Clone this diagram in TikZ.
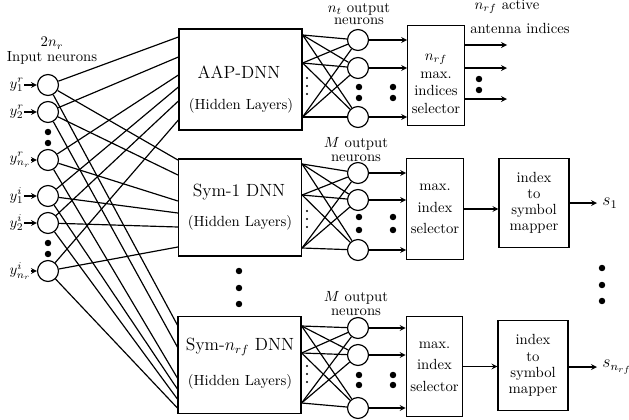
\documentclass[tikz,border=0pt]{standalone}
\usetikzlibrary{arrows,calc}
\begin{document}
\begin{tikzpicture}[x=0.0239cm,y=-0.0239cm,thick,
    neuron/.style={draw,circle,minimum size=0.5cm,inner sep=0pt},
    dnn/.style={draw,minimum width=2.94cm,minimum height=2.32cm,inner sep=0pt},
    selbox/.style={draw,minimum width=1.35cm,minimum height=2.4cm,inner sep=0pt,align=center},
    mapbox/.style={draw,minimum width=1.67cm,minimum height=2.14cm,inner sep=0pt,align=center},
    lbl/.style={align=center,inner sep=0pt}]
  \useasboundingbox (0,0) rectangle (629,419);

  \node[lbl] (intitle) at (52,51) {$2n_r$\\[-2pt]Input neurons};
  \foreach \i/\y/\lab in {1/85/y^r_1,2/112/y^r_2,3/160/y^r_{n_r},4/196/y^i_1,5/223/y^i_2,6/271/y^i_{n_r}}
  {
    \node[neuron] (in\i) at (48,\y) {};
    \node[anchor=west,inner sep=0pt] (y\i) at (9,\y) {$\lab$};
    \draw[-stealth] (y\i) -- (in\i);
  }
  \foreach \y in {132,143,243,254} \fill (48,\y) circle (2.2pt);

  \node[dnn,minimum height=2.41cm] (aap) at (240.5,79.5) {};
  \node[dnn] (sym1) at (240,207.5) {};
  \node[dnn] (symn) at (239.5,365) {};
  \node[font=\large] (aapname) at (239,72) {AAP-DNN};
  \node (aaphid) at (241,106) {(Hidden Layers)};
  \node[font=\large] (sym1name) at (239,192) {Sym-1 DNN};
  \node (sym1hid) at (240,223) {(Hidden Layers)};
  \node[font=\large] (symnname) at (240,347) {Sym-$n_{rf}$ DNN};
  \node (symnhid) at (240,382) {(Hidden Layers)};
  \foreach \y in {271,288,304} \fill (239,\y) circle (2.2pt);

  \foreach \i/\a/\b/\c in {1/37/160/325,2/57/175/347,3/75/201/378,4/87/213/389,5/101/227/399,6/120/247/408}
  {
    \coordinate (aapin\i) at (aap.west |- 0,\a);
    \coordinate (sym1in\i) at (sym1.west |- 0,\b);
    \coordinate (symnin\i) at (symn.west |- 0,\c);
    \path (in\i) edge (aapin\i) edge (sym1in\i) edge (symnin\i);
  }

  \node[selbox] (sela) at (436,75.5) {};
  \node[lbl] (selatxt) at (436,84) {$n_{rf}$\\max.\\indices\\selector};
  \node[selbox] (selb) at (435,209) {max.\\[2.6pt]index\\[2.6pt]selector};
  \node[selbox] (selc) at (434.5,366.5) {max.\\[2.6pt]index\\[2.6pt]selector};

  \node[lbl] (nttitle) at (359,14) {$n_t$ output\\[-4pt]neurons};
  \node[lbl] (mtitleb) at (356,149.5) {$M$ output\\[-3pt]neurons};
  \node[lbl] (mtitlec) at (356,303.5) {$M$ output\\[-3pt]neurons};

  \foreach \rw/\bx/\pa/\pb/\pc/\qa/\qb/\qc/\dm/\da/\db in
    {a/aap/35/63/117/40/68/117/86/87/98, b/sym1/164/195/248/173/200/250/219/217/230, c/symn/326/353/403/328/355/408/374/375/385}
  {
    \coordinate (src\rw1) at (\bx.east |- 0,\pa);
    \coordinate (src\rw2) at (\bx.east |- 0,\pb);
    \coordinate (src\rw3) at (\bx.east |- 0,\pc);
    \node[neuron] (out\rw1) at (358,\qa) {};
    \node[neuron] (out\rw2) at (358,\qb) {};
    \node[neuron] (out\rw3) at (358,\qc) {};
    \foreach \src in {1,2,3} \foreach \dst in {1,2,3} \draw (src\rw\src) -- (out\rw\dst);
    \foreach \dst in {1,2,3} \draw[-stealth] (out\rw\dst) -- (sel\rw.west |- out\rw\dst);
    \foreach \y in {-8,0,8} \fill (307,\dm+\y) circle (0.8pt);
    \fill (359,\da) circle (2.2pt) (359,\db) circle (2.2pt) (393,\da) circle (2.2pt) (393,\db) circle (2.2pt);
  }

  \node (nrfact) at (507,7) {$n_{rf}$ active};
  \node (antidx) at (520,28) {antenna indices};
  \foreach \i/\y in {1/45,2/68,3/99}
  {
    \coordinate (ant\i) at (507,\y);
    \draw[-stealth] (sela.east |- ant\i) -- (ant\i);
  }
  \fill (479,79) circle (2.2pt) (479,90) circle (2.2pt);

  \node[mapbox] (mapb) at (534,203) {index\\[-1pt]to\\[-1pt]symbol\\[-1pt]mapper};
  \node[mapbox] (mapc) at (533,365.5) {index\\[-1pt]to\\[-1pt]symbol\\[-1pt]mapper};
  \node[anchor=west,font=\large] (s1) at (597,203) {$s_1$};
  \node[anchor=west,font=\large] (sn) at (597,367) {$s_{n_{rf}}$};
  \path[-stealth]
    (selb) edge (mapb.west |- selb)
    (selc) edge (mapc.west |- selc)
    (mapb) edge (s1)
    (mapc.east |- sn) edge (sn);
  \foreach \y in {268,285,301} \fill (602,\y) circle (2.2pt);
\end{tikzpicture}
\end{document}
